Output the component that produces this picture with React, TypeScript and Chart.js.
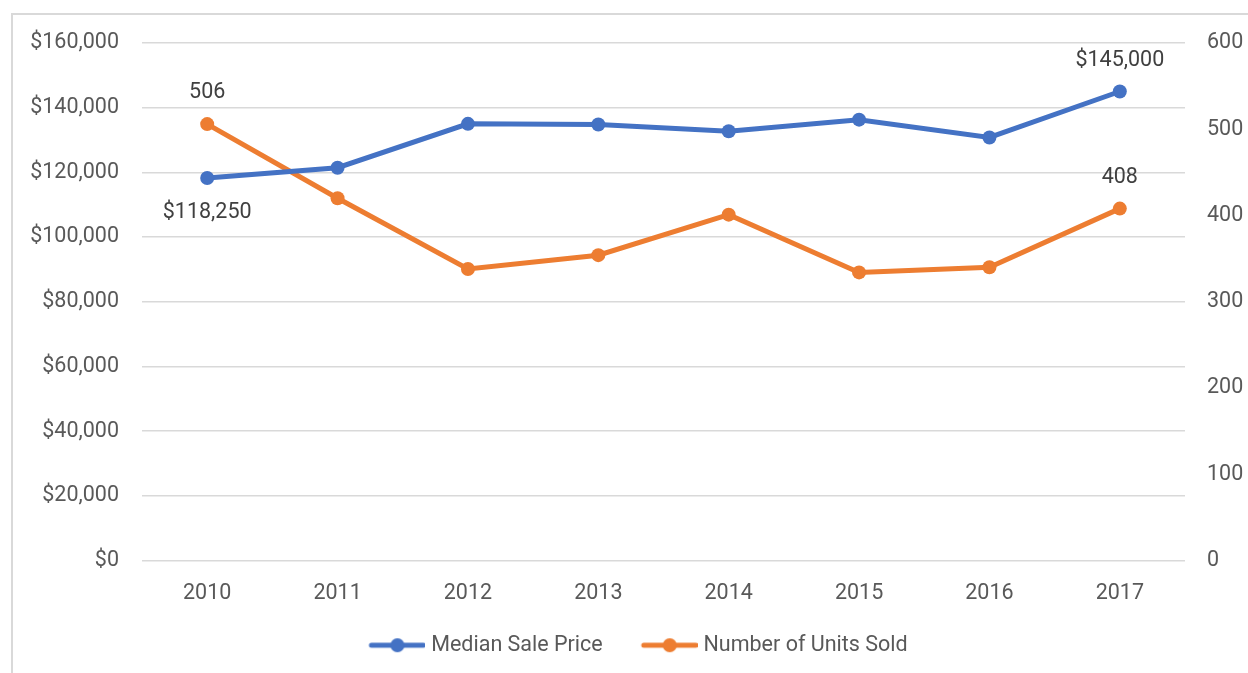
import React, { useEffect, useRef } from "react";
import { Chart, registerables } from "chart.js";

Chart.register(...registerables);

const years = ["2010", "2011", "2012", "2013", "2014", "2015", "2016", "2017"];
const medianSalePrice = [118250, 121450, 135000, 134800, 132700, 136300, 130800, 145000];
const unitsSold = [506, 420, 338, 354, 401, 334, 340, 408];
const priceLabel = "Median Sale Price";
const unitsLabel = "Number of Units Sold";
const blue = "#4472C4";
const orange = "#ED7D31";
const textColor = "#595959";
const gridColor = "#d9d9d9";
const fontFamily = "Roboto, 'Liberation Sans', sans-serif";
const fontSize = 21.5;

// labels shown on the points: [datasetIndex, pointIndex, "above" | "below"]
const pointLabels: [number, number, string][] = [
  [0, 0, "below"],
  [0, 7, "above"],
  [1, 0, "above"],
  [1, 7, "above"],
];

function makeLegendSymbol(color: string): HTMLCanvasElement {
  const c = document.createElement("canvas");
  c.width = 90;
  c.height = 16;
  const ctx = c.getContext("2d")!;
  ctx.strokeStyle = color;
  ctx.lineWidth = 5;
  ctx.lineCap = "round";
  ctx.beginPath();
  ctx.moveTo(36, 8);
  ctx.lineTo(88, 8);
  ctx.stroke();
  ctx.fillStyle = color;
  ctx.beginPath();
  ctx.arc(62, 8, 7, 0, Math.PI * 2);
  ctx.fill();
  return c;
}

const framePlugin = {
  id: "frame",
  beforeDraw(chart: any) {
    const ctx = chart.ctx;
    ctx.save();
    ctx.fillStyle = "#ffffff";
    ctx.fillRect(0, 0, chart.width, chart.height);
    ctx.strokeStyle = gridColor;
    ctx.lineWidth = 2;
    ctx.beginPath();
    ctx.moveTo(12, chart.height);
    ctx.lineTo(12, 14);
    ctx.lineTo(chart.width, 14);
    ctx.stroke();
    ctx.restore();
  },
};

const pointLabelPlugin = {
  id: "pointLabels",
  afterDatasetsDraw(chart: any) {
    const ctx = chart.ctx;
    ctx.save();
    ctx.font = `${fontSize}px ${fontFamily}`;
    ctx.fillStyle = "#404040";
    ctx.textAlign = "center";
    ctx.textBaseline = "middle";
    for (const [di, pi, pos] of pointLabels) {
      const el = chart.getDatasetMeta(di).data[pi];
      const ds = chart.data.datasets[di];
      const v = ds.data[pi] as number;
      const text = di === 0 ? "$" + v.toLocaleString("en-US") : String(v);
      const y = pos === "above" ? el.y - 31 : el.y + 35;
      ctx.fillText(text, el.x, y);
    }
    ctx.restore();
  },
};

export default function App() {
  const ref = useRef<HTMLCanvasElement | null>(null);
  useEffect(() => {
    if (!ref.current) return;
    const symBlue = makeLegendSymbol(blue);
    const symOrange = makeLegendSymbol(orange);
    const chart = new Chart(ref.current, {
      type: "line",
      data: {
        labels: years,
        datasets: [
          {
            label: priceLabel,
            data: medianSalePrice,
            borderColor: blue,
            backgroundColor: blue,
            borderWidth: 5,
            pointRadius: 7,
            pointHoverRadius: 7,
            pointBorderWidth: 0,
            yAxisID: "y",
            tension: 0,
          },
          {
            label: unitsLabel,
            data: unitsSold,
            borderColor: orange,
            backgroundColor: orange,
            borderWidth: 5,
            pointRadius: 7,
            pointHoverRadius: 7,
            pointBorderWidth: 0,
            yAxisID: "y1",
            tension: 0,
          },
        ],
      },
      options: {
        responsive: false,
        animation: false,
        layout: { padding: { top: 43, bottom: 7, left: 0, right: 0 } },
        plugins: {
          tooltip: { enabled: false },
          legend: {
            position: "bottom",
            labels: {
              usePointStyle: true,
              pointStyleWidth: 80,
              padding: 10,
              color: textColor,
              font: { family: fontFamily, size: fontSize },
              generateLabels: (c: any) =>
                c.data.datasets.map((d: any, i: number) => ({
                  text: d.label,
                  fillStyle: d.borderColor,
                  strokeStyle: d.borderColor,
                  lineWidth: 0,
                  pointStyle: i === 0 ? symBlue : symOrange,
                  datasetIndex: i,
                  hidden: false,
                  fontColor: textColor,
                })),
            },
          },
        },
        scales: {
          x: {
            offset: true,
            grid: { display: false, drawTicks: false },
            border: { display: false },
            ticks: { color: textColor, padding: 20, font: { family: fontFamily, size: fontSize } },
            afterFit: (s: any) => {
              s.height = 64;
            },
          },
          y: {
            position: "left",
            min: 0,
            max: 160000,
            grid: { color: gridColor, lineWidth: 1.5, drawTicks: false },
            border: { display: false },
            ticks: {
              stepSize: 20000,
              padding: 23,
              color: textColor,
              font: { family: fontFamily, size: fontSize },
              callback: (v: any) => "$" + Number(v).toLocaleString("en-US"),
            },
            afterFit: (s: any) => {
              s.width = 142;
            },
          },
          y1: {
            position: "right",
            min: 0,
            max: 600,
            grid: { display: false, drawTicks: false },
            border: { display: false },
            ticks: {
              stepSize: 100,
              padding: 22,
              color: textColor,
              font: { family: fontFamily, size: fontSize },
            },
            afterFit: (s: any) => {
              s.width = 63;
            },
          },
        },
      },
      plugins: [framePlugin, pointLabelPlugin],
    });
    return () => chart.destroy();
  }, []);
  return (
    <div style={{ position: "absolute", left: 0, top: 0, width: 1248, height: 673 }}>
      <canvas ref={ref} width={1248} height={673} />
    </div>
  );
}
